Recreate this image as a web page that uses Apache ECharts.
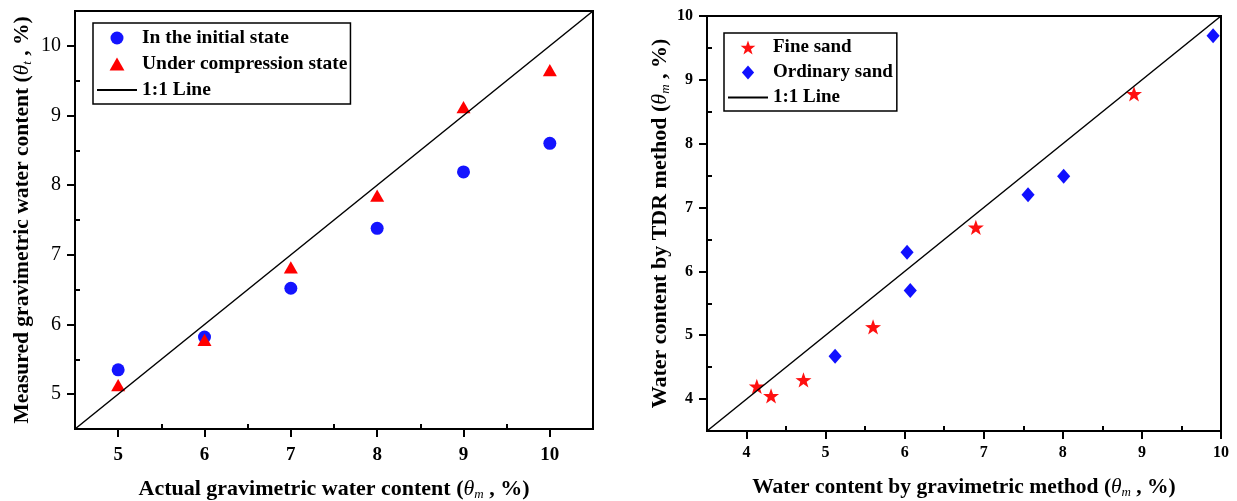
<!DOCTYPE html>
<html>
<head>
<meta charset="utf-8">
<script src="https://cdn.jsdelivr.net/npm/echarts@6/dist/echarts.min.js"></script>
<style>
  html, body { margin: 0; padding: 0; background: #fff; }
  #chart { width: 1237px; height: 501px; }
</style>
</head>
<body>
<div id="chart"></div>
<script>
// left panel: actual vs measured gravimetric water content
const actualContent = [5, 6, 7, 8, 9, 10]
const initialState = [5.35, 5.82, 6.52, 7.38, 8.19, 8.6]
const compressionState = [5.13, 5.78, 6.82, 7.85, 9.12, 9.65]
const leftTicks = [5, 6, 7, 8, 9, 10]
const leftMinorTicks = [5.5, 6.5, 7.5, 8.5, 9.5]
const leftLine = [[4.5, 4.5], [10.5, 10.5]]

// right panel: gravimetric vs TDR
const fineSandX = [4.13, 4.31, 4.72, 5.6, 6.9, 8.9]
const fineSandY = [4.2, 4.05, 4.3, 5.13, 6.69, 8.78]
const ordinarySandX = [5.12, 6.03, 6.07, 7.56, 8.01, 9.9]
const ordinarySandY = [4.67, 6.3, 5.7, 7.2, 7.49, 9.69]
const rightTicks = [4, 5, 6, 7, 8, 9, 10]
const rightMinorTicks = [4.5, 5.5, 6.5, 7.5, 8.5, 9.5]
const rightLine = [[3.5, 3.5], [10, 10]]

const serif = 'Liberation Serif'
const zip = (xs, ys) => xs.map((x, i) => [x, ys[i]])

const nameRich = (size) => ({
  b: { fontFamily: serif, fontWeight: 'bold', fontSize: size, color: '#000' },
  i: { fontFamily: serif, fontStyle: 'italic', fontSize: size, color: '#000' },
  s: { fontFamily: serif, fontStyle: 'italic', fontSize: 13, color: '#000', verticalAlign: 'bottom', padding: [10, 0, 0, 0] },
})

function mainAxis(gridIndex, min, max, ticks, name, gap, nameSize, labelStyle) {
  return {
    type: 'value', gridIndex, min, max,
    name, nameLocation: 'middle', nameGap: gap,
    nameTextStyle: { rich: nameRich(nameSize) },
    axisLine: { show: true, lineStyle: { color: '#000', width: 2 } },
    axisTick: { show: true, inside: false, length: 8, customValues: ticks, lineStyle: { color: '#000', width: 2 } },
    axisLabel: { customValues: ticks, margin: 14, color: '#000', fontFamily: serif, ...labelStyle },
    splitLine: { show: false },
  }
}

function minorAxis(gridIndex, min, max, ticks, position) {
  return {
    type: 'value', gridIndex, min, max, position,
    axisLine: { show: false },
    axisTick: { show: true, inside: true, length: 5, customValues: ticks, lineStyle: { color: '#000', width: 2 } },
    axisLabel: { show: false },
    splitLine: { show: false },
  }
}

const lineLegendItem = { name: '1:1 Line', itemStyle: { opacity: 0 } }

const option = {
  animation: false,
  backgroundColor: '#fff',
  grid: [
    { left: 75, top: 11, width: 518, height: 418, outerBoundsMode: 'none', show: true, borderColor: '#000', borderWidth: 2 },
    { left: 707, top: 16, width: 514, height: 415, outerBoundsMode: 'none', show: true, borderColor: '#000', borderWidth: 2 },
  ],
  legend: [
    {
      data: ['In the initial state', 'Under compression state', lineLegendItem],
      orient: 'vertical', left: 93, top: 23,
      itemWidth: 40, itemHeight: 13, itemGap: 6,
      padding: [5, 3, 4, 3],
      borderColor: '#000', borderWidth: 1.5, borderRadius: 0,
      textStyle: { fontFamily: serif, fontWeight: 'bold', fontSize: 19.5, color: '#000' },
    },
    {
      data: ['Fine sand', 'Ordinary sand', lineLegendItem],
      orient: 'vertical', left: 724, top: 33,
      itemWidth: 40, itemHeight: 14, itemGap: 6,
      padding: [5, 4, 4, 3],
      borderColor: '#000', borderWidth: 1.5, borderRadius: 0,
      textStyle: { fontFamily: serif, fontWeight: 'bold', fontSize: 19, color: '#000' },
    },
  ],
  xAxis: [
    mainAxis(0, 4.5, 10.5, leftTicks, '{b|Actual gravimetric water content (}{i|θ}{s|m}{b| , %)}', 49, 22, { fontSize: 19, fontWeight: 'bold', margin: 17 }),
    minorAxis(0, 4.5, 10.5, leftMinorTicks, 'bottom'),
    mainAxis(1, 3.5, 10, rightTicks, '{b|Water content by gravimetric method (}{i|θ}{s|m}{b| , %)}', 45, 21.5, { fontSize: 16, fontWeight: 'bold' }),
    minorAxis(1, 3.5, 10, rightMinorTicks, 'bottom'),
  ],
  yAxis: [
    mainAxis(0, 4.5, 10.5, leftTicks, '{b|Measured gravimetric water content (}{i|θ}{s|t}{b| , %)}', 41, 21.5, { fontSize: 20 }),
    minorAxis(0, 4.5, 10.5, leftMinorTicks, 'left'),
    mainAxis(1, 3.5, 10, rightTicks, '{b|Water content by TDR method (}{i|θ}{s|m}{b| , %)}', 35, 22, { fontSize: 16, fontWeight: 'bold' }),
    minorAxis(1, 3.5, 10, rightMinorTicks, 'left'),
  ],
  series: [
    {
      name: 'In the initial state', type: 'scatter', xAxisIndex: 0, yAxisIndex: 0,
      symbol: 'circle', symbolSize: 13,
      itemStyle: { color: '#1414ff', opacity: 1 },
      data: zip(actualContent, initialState),
    },
    {
      name: 'Under compression state', type: 'scatter', xAxisIndex: 0, yAxisIndex: 0,
      symbol: 'path://M0,-7L8,7L-8,7Z', symbolSize: 14, symbolKeepAspect: true,
      itemStyle: { color: '#ff0000', opacity: 1 },
      data: zip(actualContent, compressionState),
    },
    {
      name: '1:1 Line', type: 'line', xAxisIndex: 0, yAxisIndex: 0,
      symbol: 'none', itemStyle: { color: '#000' }, lineStyle: { color: '#000', width: 1.5 },
      data: leftLine,
    },
    {
      name: 'Fine sand', type: 'scatter', xAxisIndex: 2, yAxisIndex: 2,
      symbol: 'path://M0,-10L2.35,-3.24L9.51,-3.09L3.8,1.24L5.88,8.09L0,4L-5.88,8.09L-3.8,1.24L-9.51,-3.09L-2.35,-3.24Z',
      symbolSize: 16, symbolKeepAspect: true,
      itemStyle: { color: '#ff1010', opacity: 1 },
      data: zip(fineSandX, fineSandY),
    },
    {
      name: 'Ordinary sand', type: 'scatter', xAxisIndex: 2, yAxisIndex: 2,
      symbol: 'path://M0,-8L7,0L0,8L-7,0Z', symbolSize: 15, symbolKeepAspect: true,
      itemStyle: { color: '#1010ff', opacity: 1 },
      data: zip(ordinarySandX, ordinarySandY),
    },
    {
      name: '1:1 Line', type: 'line', xAxisIndex: 2, yAxisIndex: 2,
      symbol: 'none', itemStyle: { color: '#000' }, lineStyle: { color: '#000', width: 1.5 },
      data: rightLine,
    },
  ],
}

const chart = echarts.init(document.getElementById('chart'))
chart.setOption(option)
</script>
</body>
</html>
